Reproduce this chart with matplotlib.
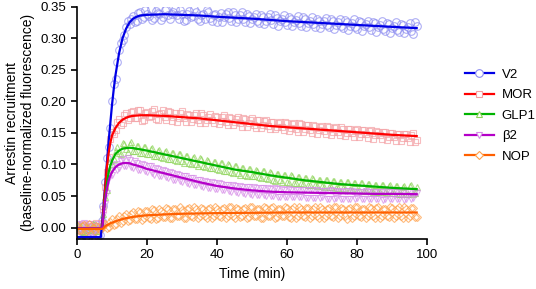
import numpy as np
import matplotlib
matplotlib.use('Agg')
from matplotlib import pyplot as plt
from matplotlib.lines import Line2D

plt.rcParams['font.family'] = ['Liberation Sans', 'DejaVu Sans']

# measured points, replicate 1 on whole minutes, replicate 2 on half minutes
t_pts = list(range(0, 98))
t_pts2 = [x + 0.5 for x in range(0, 97)]

v2_pts = [-0.012, -0.018, -0.008, -0.016, -0.010, -0.019, -0.013,
          0.010, 0.072, 0.128, 0.201, 0.236, 0.281, 0.297, 0.318, 0.322, 0.335, 0.328, 0.341, 0.333,
          0.339, 0.346, 0.332, 0.340, 0.329, 0.344, 0.336, 0.339, 0.347, 0.331, 0.338, 0.329, 0.343,
          0.335, 0.341, 0.327, 0.338, 0.345, 0.332, 0.337, 0.326, 0.340, 0.333, 0.342, 0.328, 0.336,
          0.331, 0.341, 0.325, 0.335, 0.330, 0.339, 0.324, 0.334, 0.328, 0.338, 0.323, 0.332, 0.327,
          0.337, 0.321, 0.331, 0.325, 0.335, 0.319, 0.330, 0.324, 0.334, 0.318, 0.328, 0.323, 0.332,
          0.317, 0.327, 0.321, 0.331, 0.316, 0.326, 0.320, 0.330, 0.315, 0.325, 0.319, 0.328, 0.313,
          0.324, 0.317, 0.327, 0.312, 0.322, 0.316, 0.326, 0.310, 0.321, 0.315, 0.324, 0.306, 0.319]
v2_pts2 = [-0.020, -0.006, -0.014, -0.003, -0.017, -0.009, -0.011, 0.035, 0.110, 0.158,
           0.228, 0.262, 0.293, 0.305, 0.327, 0.330, 0.325, 0.340, 0.331, 0.344,
           0.335, 0.329, 0.343, 0.338, 0.333, 0.347, 0.330, 0.341, 0.336, 0.344,
           0.328, 0.339, 0.333, 0.346, 0.331, 0.337, 0.330, 0.342, 0.328, 0.339,
           0.334, 0.326, 0.338, 0.332, 0.341, 0.325, 0.336, 0.331, 0.339, 0.324,
           0.334, 0.328, 0.337, 0.322, 0.333, 0.329, 0.336, 0.320, 0.331, 0.326,
           0.334, 0.319, 0.329, 0.324, 0.333, 0.317, 0.328, 0.322, 0.331, 0.316,
           0.327, 0.321, 0.330, 0.315, 0.325, 0.319, 0.329, 0.313, 0.324, 0.318,
           0.327, 0.312, 0.322, 0.317, 0.326, 0.310, 0.321, 0.315, 0.324, 0.309,
           0.320, 0.313, 0.323, 0.308, 0.318, 0.312, 0.326]

mor_pts = [0.004, -0.006, 0.002, -0.004, 0.006, -0.002, 0.003,
           0.008, 0.064, 0.112, 0.151, 0.155, 0.172, 0.166, 0.181, 0.173, 0.185, 0.174, 0.187, 0.171,
           0.183, 0.177, 0.188, 0.170, 0.182, 0.175, 0.185, 0.169, 0.181, 0.174, 0.184, 0.168, 0.179,
           0.172, 0.182, 0.166, 0.178, 0.170, 0.180, 0.165, 0.176, 0.169, 0.178, 0.162, 0.174, 0.167,
           0.176, 0.160, 0.172, 0.165, 0.173, 0.158, 0.170, 0.163, 0.170, 0.156, 0.168, 0.160, 0.168,
           0.154, 0.166, 0.158, 0.166, 0.152, 0.164, 0.156, 0.163, 0.150, 0.161, 0.154, 0.161, 0.148,
           0.159, 0.152, 0.159, 0.146, 0.157, 0.150, 0.156, 0.144, 0.156, 0.148, 0.154, 0.142, 0.154,
           0.146, 0.152, 0.140, 0.151, 0.144, 0.150, 0.138, 0.149, 0.142, 0.148, 0.136, 0.150, 0.139]
mor_pts2 = [-0.003, 0.005, -0.007, 0.001, -0.005, 0.007, -0.001, 0.030, 0.088, 0.140,
            0.148, 0.168, 0.162, 0.178, 0.170, 0.183, 0.173, 0.186, 0.169, 0.181,
            0.176, 0.185, 0.172, 0.180, 0.186, 0.171, 0.183, 0.176, 0.168, 0.182,
            0.173, 0.180, 0.167, 0.178, 0.171, 0.181, 0.165, 0.176, 0.170, 0.177,
            0.164, 0.175, 0.168, 0.176, 0.162, 0.172, 0.166, 0.173, 0.160, 0.171,
            0.163, 0.170, 0.158, 0.169, 0.161, 0.168, 0.156, 0.166, 0.160, 0.167,
            0.153, 0.164, 0.157, 0.165, 0.151, 0.162, 0.155, 0.163, 0.149, 0.160,
            0.153, 0.161, 0.147, 0.158, 0.151, 0.159, 0.145, 0.157, 0.150, 0.155,
            0.143, 0.155, 0.148, 0.153, 0.141, 0.153, 0.146, 0.151, 0.139, 0.150,
            0.144, 0.149, 0.137, 0.148, 0.142, 0.147, 0.135]

glp1_pts = [-0.004, 0.003, -0.007, 0.001, -0.003, 0.005, -0.005,
            0.006, 0.048, 0.092, 0.101, 0.122, 0.119, 0.134, 0.124, 0.132, 0.121, 0.130, 0.118, 0.128,
            0.116, 0.125, 0.113, 0.122, 0.112, 0.120, 0.109, 0.118, 0.107, 0.116, 0.105, 0.114, 0.102,
            0.111, 0.100, 0.110, 0.097, 0.107, 0.095, 0.104, 0.093, 0.103, 0.090, 0.100, 0.088, 0.097,
            0.086, 0.095, 0.084, 0.093, 0.082, 0.091, 0.080, 0.089, 0.078, 0.088, 0.076, 0.085, 0.075,
            0.084, 0.073, 0.083, 0.071, 0.080, 0.070, 0.079, 0.068, 0.078, 0.067, 0.076, 0.066, 0.075,
            0.064, 0.074, 0.063, 0.073, 0.062, 0.072, 0.061, 0.071, 0.060, 0.070, 0.058, 0.069, 0.058,
            0.068, 0.057, 0.067, 0.056, 0.066, 0.055, 0.066, 0.054, 0.065, 0.054, 0.066, 0.053, 0.064]
glp1_pts2 = [0.004, -0.006, 0.002, -0.002, 0.006, -0.006, 0.003, 0.022, 0.060, 0.106,
             0.109, 0.127, 0.117, 0.133, 0.120, 0.135, 0.122, 0.130, 0.119, 0.128,
             0.117, 0.126, 0.114, 0.123, 0.110, 0.121, 0.108, 0.119, 0.105, 0.117,
             0.103, 0.113, 0.100, 0.112, 0.098, 0.109, 0.096, 0.106, 0.094, 0.104,
             0.092, 0.102, 0.089, 0.099, 0.087, 0.097, 0.084, 0.095, 0.082, 0.093,
             0.081, 0.090, 0.078, 0.089, 0.077, 0.086, 0.074, 0.085, 0.073, 0.084,
             0.071, 0.082, 0.070, 0.080, 0.069, 0.078, 0.067, 0.077, 0.066, 0.076,
             0.065, 0.075, 0.064, 0.074, 0.062, 0.073, 0.061, 0.072, 0.060, 0.071,
             0.059, 0.071, 0.058, 0.069, 0.057, 0.068, 0.056, 0.068, 0.055, 0.067,
             0.055, 0.066, 0.054, 0.066, 0.053, 0.067, 0.055]

b2_pts = [0.005, -0.003, 0.007, -0.006, 0.002, -0.004, 0.006,
          0.003, 0.038, 0.079, 0.084, 0.101, 0.095, 0.109, 0.098, 0.107, 0.094, 0.103, 0.091, 0.099,
          0.088, 0.097, 0.084, 0.093, 0.081, 0.090, 0.079, 0.087, 0.075, 0.083, 0.073, 0.081, 0.069,
          0.078, 0.067, 0.075, 0.065, 0.073, 0.062, 0.071, 0.061, 0.069, 0.059, 0.068, 0.057, 0.066,
          0.055, 0.065, 0.054, 0.064, 0.052, 0.063, 0.051, 0.062, 0.050, 0.061, 0.050, 0.061, 0.049,
          0.060, 0.049, 0.060, 0.048, 0.059, 0.048, 0.059, 0.047, 0.059, 0.047, 0.058, 0.048, 0.058,
          0.046, 0.058, 0.047, 0.057, 0.046, 0.058, 0.046, 0.057, 0.047, 0.057, 0.045, 0.056, 0.046,
          0.057, 0.045, 0.056, 0.046, 0.057, 0.045, 0.056, 0.046, 0.057, 0.045, 0.056, 0.047, 0.055]
b2_pts2 = [-0.005, 0.004, -0.002, 0.006, -0.007, 0.003, -0.003, 0.020, 0.055, 0.090,
           0.098, 0.092, 0.106, 0.097, 0.110, 0.096, 0.105, 0.092, 0.101, 0.089,
           0.098, 0.086, 0.095, 0.082, 0.092, 0.080, 0.088, 0.076, 0.085, 0.074,
           0.082, 0.070, 0.079, 0.068, 0.076, 0.066, 0.074, 0.063, 0.072, 0.061,
           0.070, 0.060, 0.068, 0.058, 0.067, 0.056, 0.066, 0.055, 0.065, 0.053,
           0.064, 0.052, 0.063, 0.051, 0.062, 0.050, 0.062, 0.049, 0.061, 0.049,
           0.061, 0.048, 0.060, 0.048, 0.060, 0.047, 0.059, 0.047, 0.059, 0.047,
           0.058, 0.046, 0.059, 0.046, 0.058, 0.046, 0.058, 0.045, 0.058, 0.046,
           0.057, 0.045, 0.058, 0.045, 0.057, 0.046, 0.057, 0.044, 0.058, 0.045,
           0.056, 0.045, 0.057, 0.044, 0.057, 0.046, 0.056]

nop_pts = [0.002, -0.004, 0.004, -0.002, 0.003, -0.005, 0.001,
           0.001, 0.006, 0.001, 0.013, 0.006, 0.018, 0.010, 0.021, 0.012, 0.024, 0.013, 0.025, 0.015,
           0.026, 0.014, 0.028, 0.016, 0.027, 0.017, 0.029, 0.016, 0.030, 0.018, 0.028, 0.016, 0.031,
           0.017, 0.029, 0.018, 0.030, 0.016, 0.031, 0.019, 0.030, 0.017, 0.031, 0.018, 0.032, 0.016,
           0.030, 0.019, 0.031, 0.017, 0.032, 0.018, 0.030, 0.016, 0.031, 0.019, 0.032, 0.017, 0.030,
           0.018, 0.031, 0.016, 0.032, 0.019, 0.030, 0.017, 0.031, 0.018, 0.032, 0.016, 0.030, 0.019,
           0.031, 0.017, 0.032, 0.018, 0.030, 0.013, 0.031, 0.019, 0.032, 0.017, 0.030, 0.018, 0.031,
           0.016, 0.032, 0.019, 0.030, 0.017, 0.031, 0.018, 0.032, 0.016, 0.030, 0.019, 0.031, 0.017]
nop_pts2 = [-0.003, 0.003, -0.005, 0.005, -0.001, 0.002, -0.004, 0.004, 0.000, 0.009,
            0.004, 0.014, 0.008, 0.019, 0.011, 0.022, 0.014, 0.026, 0.012, 0.027,
            0.015, 0.029, 0.014, 0.030, 0.017, 0.031, 0.015, 0.029, 0.019, 0.032,
            0.016, 0.030, 0.018, 0.033, 0.015, 0.031, 0.019, 0.029, 0.016, 0.032,
            0.018, 0.030, 0.015, 0.033, 0.019, 0.031, 0.017, 0.029, 0.016, 0.032,
            0.019, 0.030, 0.015, 0.033, 0.018, 0.031, 0.016, 0.029, 0.019, 0.032,
            0.017, 0.030, 0.015, 0.033, 0.019, 0.031, 0.016, 0.029, 0.018, 0.032,
            0.015, 0.030, 0.019, 0.033, 0.016, 0.031, 0.018, 0.029, 0.015, 0.032,
            0.019, 0.030, 0.016, 0.033, 0.018, 0.031, 0.015, 0.029, 0.019, 0.032,
            0.016, 0.030, 0.018, 0.033, 0.015, 0.031, 0.017]

# fitted curves
v2_fit_t = [0, 6.8, 7.5, 8, 8.5, 9, 9.5, 10, 10.5, 11, 12, 13, 14, 15, 16, 17, 18, 20, 25, 30,
            35, 40, 50, 60, 70, 80, 90, 97]
v2_fit = [-0.015, -0.015, 0.030, 0.065, 0.100, 0.135, 0.165, 0.195, 0.220, 0.242, 0.276, 0.300,
          0.315, 0.325, 0.331, 0.334, 0.336, 0.337, 0.338, 0.337, 0.336, 0.334, 0.331, 0.327,
          0.324, 0.321, 0.318, 0.316]

fit_t = [0, 7.2, 7.5, 8, 8.5, 9, 9.5, 10, 11, 12, 13, 14, 15, 16, 18, 20, 25, 30, 35, 40, 45,
         50, 55, 60, 65, 70, 75, 80, 85, 90, 97]
mor_fit = [-0.001, -0.001, 0.025, 0.060, 0.095, 0.117, 0.134, 0.146, 0.158, 0.166, 0.171, 0.174,
           0.176, 0.177, 0.178, 0.178, 0.177, 0.175, 0.173, 0.170, 0.167, 0.164, 0.161, 0.159,
           0.157, 0.155, 0.153, 0.151, 0.149, 0.147, 0.145]
glp1_fit = [-0.001, -0.001, 0.015, 0.045, 0.068, 0.087, 0.098, 0.106, 0.117, 0.122, 0.125, 0.126,
            0.1265, 0.126, 0.124, 0.122, 0.116, 0.110, 0.104, 0.098, 0.092, 0.088, 0.083, 0.079,
            0.075, 0.072, 0.069, 0.067, 0.065, 0.063, 0.061]
b2_fit = [-0.001, -0.001, 0.015, 0.042, 0.060, 0.074, 0.082, 0.088, 0.096, 0.100, 0.102, 0.1025,
          0.102, 0.100, 0.097, 0.093, 0.086, 0.079, 0.072, 0.066, 0.062, 0.059, 0.057, 0.056,
          0.0555, 0.055, 0.0545, 0.054, 0.0535, 0.0535, 0.053]
nop_fit = [-0.002, -0.002, -0.001, 0.002, 0.004, 0.005, 0.007, 0.008, 0.010, 0.012, 0.0135, 0.015,
           0.016, 0.017, 0.0185, 0.0195, 0.021, 0.022, 0.0225, 0.023, 0.0233, 0.0235, 0.0237,
           0.024, 0.024, 0.024, 0.024, 0.024, 0.024, 0.024, 0.024]

labels = ['V2', 'MOR', 'GLP1', '\u03b22', 'NOP']
line_colors = ['#0000e6', '#ff0000', '#00b400', '#b400c8', '#ff6000']
pt_colors = ['#8c8cf0', '#f4a0a4', '#8ed45a', '#d68ce8', '#ffa04a']
markers = ['o', 's', '^', 'v', 'D']
msizes = [5.5, 5.0, 5.0, 5.0, 4.2]

pts = [v2_pts, mor_pts, glp1_pts, b2_pts, nop_pts]
pts2 = [v2_pts2, mor_pts2, glp1_pts2, b2_pts2, nop_pts2]
fits = [(v2_fit_t, v2_fit), (fit_t, mor_fit), (fit_t, glp1_fit), (fit_t, b2_fit), (fit_t, nop_fit)]

fig = plt.figure(figsize=(5.36, 2.89), dpi=100)
ax = fig.add_axes([0.1437, 0.173, 0.797 - 0.1437, 0.977 - 0.173])

for i in range(5):
    for tt, yy in [(t_pts, pts[i]), (t_pts2, pts2[i])]:
        ax.plot(tt, yy, linestyle='none', marker=markers[i], markersize=msizes[i],
                markerfacecolor='none', markeredgecolor=pt_colors[i], markeredgewidth=0.8,
                alpha=0.7)
for i in range(5):
    ax.plot(fits[i][0], fits[i][1], color=line_colors[i], linewidth=1.6)

ax.set_xlim(0, 100)
ax.set_ylim(-0.018, 0.35)
ax.set_xticks([0, 20, 40, 60, 80, 100])
ax.set_yticks([0, 0.05, 0.10, 0.15, 0.20, 0.25, 0.30, 0.35])
ax.set_yticklabels(['0.00', '0.05', '0.10', '0.15', '0.20', '0.25', '0.30', '0.35'])
ax.spines['top'].set_visible(False)
ax.spines['right'].set_visible(False)
ax.spines['left'].set_linewidth(1.2)
ax.spines['bottom'].set_linewidth(1.2)
ax.tick_params(direction='out', length=4, width=1.2, labelsize=9.5, colors='black')
ax.set_xlabel('Time (min)', fontsize=10)
ax.set_ylabel('Arrestin recruitment\n(baseline-normalized fluorescence)', fontsize=10)

handles = []
for i in range(5):
    handles.append(Line2D([0], [0], color=line_colors[i], linewidth=1.6, marker=markers[i],
                          markersize=msizes[i], markerfacecolor='white',
                          markeredgecolor=pt_colors[i], markeredgewidth=0.8))
fig.legend(handles, labels, loc='upper left', bbox_to_anchor=(0.855, 0.785), frameon=False,
           fontsize=9.5, handlelength=2.2, handletextpad=0.6, labelspacing=0.62, borderpad=0)

fig.savefig('out.png', dpi=100)
